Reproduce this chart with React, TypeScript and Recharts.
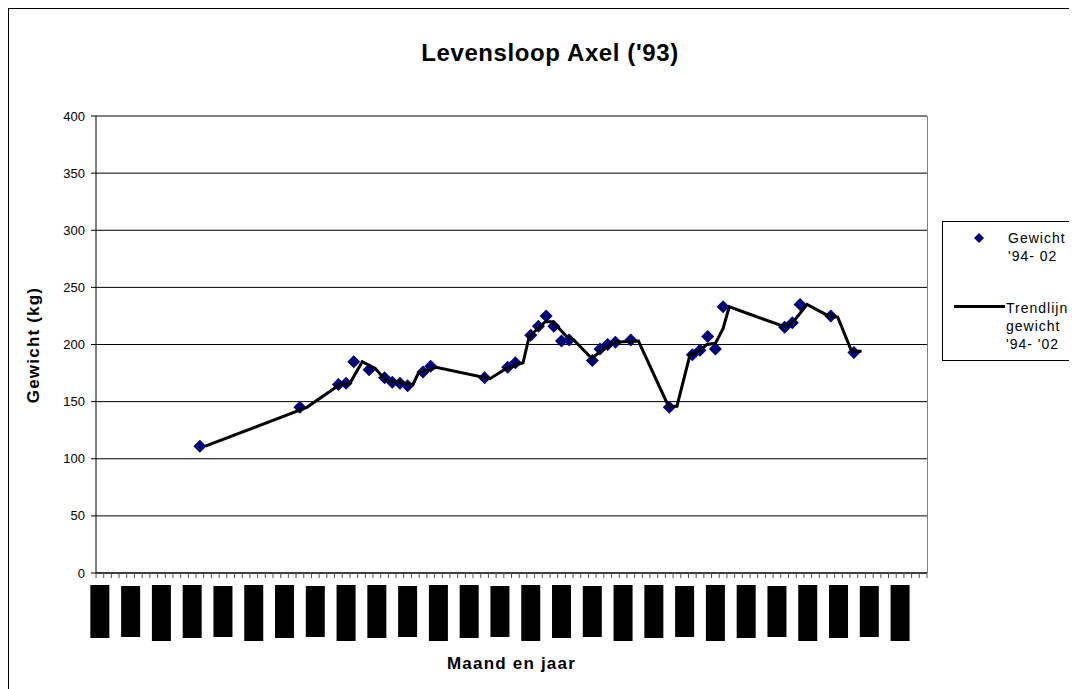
import React from 'react';
import { ScatterChart, Scatter, XAxis, YAxis, CartesianGrid, Customized } from 'recharts';

// ---- data ----
// x positions are in months counted from jan-94 (month centre = index + 0.5)
const pointMonths = [13.5, 26.5, 31.5, 32.5, 33.5, 35.5, 37.5, 38.5, 39.5, 40.5, 42.5, 43.5, 50.5, 53.5, 54.5, 56.5, 57.5, 58.5, 59.5, 60.5, 61.5, 64.5, 65.5, 66.5, 67.5, 69.5, 74.5, 77.5, 78.5, 79.5, 80.5, 81.5, 89.5, 90.5, 91.5, 95.5, 98.5];
const pointWeights = [111, 145, 165, 166, 185, 178, 171, 167, 166, 164, 176, 181, 171, 180, 184, 208, 216, 225, 216, 203, 204, 186, 196, 200, 202, 204, 145, 191, 195, 207, 196, 233, 215, 219, 235, 225, 193];

const trendMonths = [14.2, 27.4, 31.7, 33.0, 34.6, 36.3, 37.6, 41.2, 41.9, 44.2, 51.2, 53.3, 55.5, 56.3, 58.4, 59.4, 61.0, 62.1, 64.4, 65.4, 67.3, 70.5, 74.4, 75.5, 77.2, 78.1, 79.4, 80.5, 81.5, 82.3, 89.3, 90.4, 92.4, 95.2, 96.4, 98.2, 99.5];
const trendWeights = [111, 145, 165, 166, 185, 179, 169, 165, 175, 180, 170, 179, 184, 207, 220, 220, 208, 204, 188, 193, 202, 203, 146, 146, 191, 193, 200, 201, 214, 233, 216, 218, 235, 225, 224, 194, 194];

const monthNames = ['jan', 'feb', 'mrt', 'apr', 'mei', 'jun', 'jul', 'aug', 'sep', 'okt', 'nov', 'dec'];
const yTicks = [0, 50, 100, 150, 200, 250, 300, 350, 400];
const TOTAL_MONTHS = 108;
const LABEL_EVERY = 4;

const title = "Levensloop Axel ('93)";
const yTitle = 'Gewicht (kg)';
const xTitle = 'Maand en jaar';
const seriesName1 = ['Gewicht', "'94- 02"];
const seriesName2 = ['Trendlijn', 'gewicht', "'94- '02"];

const points = pointMonths.map((x, i) => ({ x, y: pointWeights[i] }));
const trend = trendMonths.map((x, i) => ({ x, y: trendWeights[i] }));
const monthTicks = Array.from({ length: TOTAL_MONTHS + 1 }, (_, i) => i);
const tickLabel = (m: number) => `${monthNames[m % 12]}-${String((94 + Math.floor(m / 12)) % 100).padStart(2, '0')}`;

// ---- layout ----
const W = 1069;
const H = 681;
const MARGIN = { top: 108, right: 150, bottom: 0, left: 0 };
const Y_AXIS_W = 88;
const X_AXIS_H = 116;
const PLOT_W = W - MARGIN.right - Y_AXIS_W;
const PLOT_H = H - MARGIN.top - X_AXIS_H;
const HALF_MONTH = PLOT_W / TOTAL_MONTHS / 2;
const FONT = 'Arial, "Liberation Sans", sans-serif';
const NAVY = '#000080';

const blockHeights: Record<string, [number, number]> = {
  jan: [0, 53],
  mei: [1, 51],
  sep: [0, 56],
};

const MonthTick = (props: any) => {
  const { x, y, payload } = props;
  const m = payload.value as number;
  if (m % LABEL_EVERY !== 0 || m >= TOTAL_MONTHS) return <g />;
  const label = tickLabel(m);
  const [dy, h] = blockHeights[monthNames[m % 12]] || [0, 53];
  const cx = x + HALF_MONTH;
  const top = y + 7 + dy;
  return (
    <g>
      <rect x={cx - 9.5} y={top} width={19} height={h} fill="#000" />
      <text
        x={cx + 5}
        y={top + h - 2}
        transform={`rotate(-90 ${cx + 5} ${top + h - 2})`}
        fontFamily={FONT}
        fontSize={13}
        fill="#000"
      >
        {label}
      </text>
    </g>
  );
};

const Diamond = (props: any) => {
  const { cx, cy } = props;
  if (cx == null || cy == null) return <g />;
  const r = 6.5;
  return <polygon points={`${cx},${cy - r} ${cx + r},${cy} ${cx},${cy + r} ${cx - r},${cy}`} fill={NAVY} />;
};

const NoShape = () => <g />;

const Overlay = () => {
  const plotLeft = Y_AXIS_W;
  const plotRight = Y_AXIS_W + PLOT_W;
  const plotTop = MARGIN.top;
  const plotBottom = MARGIN.top + PLOT_H;
  const lgX = 934.5;
  const lgY = 213.5;
  return (
    <g>
      <rect x={0.5} y={0.5} width={W + 20} height={H + 20} fill="none" stroke="#000" strokeWidth={1} />
      <line x1={plotRight + 0.5} y1={plotTop} x2={plotRight + 0.5} y2={plotBottom} stroke="#808080" strokeWidth={1} />
      <text x={542} y={53} textAnchor="middle" fontFamily={FONT} fontWeight="bold" fontSize={24} letterSpacing={0.6} fill="#000">
        {title}
      </text>
      <text
        x={31}
        y={337}
        textAnchor="middle"
        transform="rotate(-90 31 337)"
        fontFamily={FONT}
        fontWeight="bold"
        fontSize={17}
        letterSpacing={1.2}
        fill="#000"
      >
        {yTitle}
      </text>
      <text x={(plotLeft + plotRight) / 2} y={661} textAnchor="middle" fontFamily={FONT} fontWeight="bold" fontSize={17} letterSpacing={1.2} fill="#000">
        {xTitle}
      </text>
      {/* legend */}
      <rect x={lgX} y={lgY} width={200} height={139} fill="#fff" stroke="#000" strokeWidth={1} />
      <polygon points={`971,${225} 976,${230} 971,${235} 966,${230}`} fill={NAVY} />
      {seriesName1.map((t, i) => (
        <text key={t} x={1000} y={235 + i * 18} fontFamily={FONT} fontSize={14} letterSpacing={1} fill="#000">
          {t}
        </text>
      ))}
      <line x1={946} y1={298.5} x2={997} y2={298.5} stroke="#000" strokeWidth={3} />
      {seriesName2.map((t, i) => (
        <text key={t} x={998} y={305 + i * 18} fontFamily={FONT} fontSize={14} letterSpacing={1} fill="#000">
          {t}
        </text>
      ))}
    </g>
  );
};

export default function App() {
  return (
    <div style={{ width: W, height: H, background: '#fff' }}>
      <ScatterChart width={W} height={H} margin={MARGIN}>
        <CartesianGrid vertical={false} stroke="#000" strokeWidth={1} />
        <XAxis
          type="number"
          dataKey="x"
          domain={[0, TOTAL_MONTHS]}
          ticks={monthTicks}
          interval={0}
          height={X_AXIS_H}
          tickSize={5}
          tickMargin={0}
          axisLine={{ stroke: '#000' }}
          tickLine={{ stroke: '#555' }}
          tick={<MonthTick />}
          allowDataOverflow
        />
        <YAxis
          type="number"
          dataKey="y"
          domain={[0, 400]}
          ticks={yTicks}
          interval={0}
          width={Y_AXIS_W}
          tickSize={5}
          tickMargin={6}
          axisLine={{ stroke: '#000' }}
          tickLine={{ stroke: '#000' }}
          tick={{ fill: '#000', fontSize: 13, fontFamily: FONT }}
        />
        <Scatter name="Gewicht '94- 02" data={points} shape={<Diamond />} isAnimationActive={false} />
        <Scatter
          name="Trendlijn gewicht '94- '02"
          data={trend}
          line={{ stroke: '#000', strokeWidth: 3 }}
          lineType="joint"
          shape={<NoShape />}
          isAnimationActive={false}
        />
        <Customized component={<Overlay />} />
      </ScatterChart>
    </div>
  );
}
